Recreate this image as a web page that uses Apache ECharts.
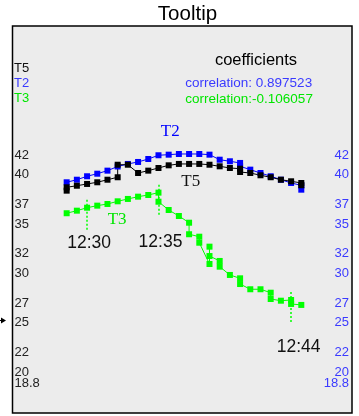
<!DOCTYPE html>
<html><head><meta charset="utf-8">
<script src="https://cdn.jsdelivr.net/npm/echarts@6/dist/echarts.min.js"></script>
<style>html,body{margin:0;padding:0;background:#fff}#c{width:359px;height:416px}</style>
</head><body><div id="c"></div>
<script>
// ---- data (one entry per sample step; a sub-array = several readings at the same step) ----
const seriesNames = ['T5', 'T2', 'T3'];
const t5 = [[38.39,38.73],38.89,39.07,39.24,39.50,[39.75,41.02],41.02,40.18,40.42,40.69,40.96,41.10,41.10,41.10,41.02,40.86,40.69,[40.62,40.28],40.18,39.95,39.75,39.50,39.34,[39.17,38.94]];
const t2 = [39.24,39.50,39.85,40.11,40.42,40.84,41.10,41.30,41.60,41.98,42.04,42.11,42.11,42.11,42.04,41.53,41.37,[41.20,40.86],40.52,40.18,39.85,39.50,39.17,[38.93,38.49]];
const t3 = [36.10,36.36,36.66,36.87,37.04,37.31,37.55,37.78,37.95,[38.19,37.27],36.43,35.82,[35.14,33.97],[33.72,33.11],[30.95,32.71,31.76],[31.26,30.68],29.84,[29.50,28.92],28.39,28.39,[28.04,27.40],27.23,[27.30,26.90],26.80];
const yTickLabels = [20, 22, 25, 27, 30, 32, 35, 37, 40, 42];
const yMinLabel = [18.8];
const timeMarkIndex = [2, 9, 22];
const timeMarkText = ['12:30', '12:35', '12:44'];
const titleText = 'Tooltip';
const coefficientsTitle = 'coefficients';
const correlationValues = ['0.897523', '-0.106057'];

// ---- helpers ----
function toPairs(arr) {
  const out = [];
  arr.forEach((v, i) => (Array.isArray(v) ? v : [v]).forEach(y => out.push([i, y])));
  return out;
}
function firstAt(arr, i) { const v = arr[i]; return Array.isArray(v) ? v[0] : v; }

const BLUE = '#0000ff', GREEN = '#00ff00', BLACK = '#000000';
const BLUE_TXT = '#3a3aff', GREEN_TXT = '#00e600';
const SANS = '"Liberation Sans", Arial, sans-serif';
const SERIF = '"Liberation Serif", "Times New Roman", serif';

const chart = echarts.init(document.getElementById('c'), null, {renderer: 'canvas'});

function yAxisCfg(pos, color, margin, values) {
  return {
    type: 'value', position: pos, min: 15.84, max: 55.09,
    axisLine: {show: false}, axisTick: {show: false}, splitLine: {show: false},
    axisLabel: {
      inside: true, customValues: values, color: color, fontSize: 13,
      fontFamily: SANS, margin: margin, formatter: v => String(v),
      showMinLabel: true, showMaxLabel: true
    }
  };
}

function lineSeries(name, arr, color, extra) {
  return Object.assign({
    name: name, type: 'line', data: toPairs(arr), yAxisIndex: 0,
    symbol: 'rect', symbolSize: 6, showSymbol: true,
    lineStyle: {color: color, width: 1}, itemStyle: {color: color},
    animation: false, silent: true
  }, extra || {});
}

const option = {
  animation: false,
  backgroundColor: '#ffffff',
  grid: {left: 12.5, right: 7, top: 26, bottom: 3, show: true,
         backgroundColor: '#ececec', borderColor: '#000', borderWidth: 1.5},
  xAxis: {type: 'value', min: -5.31, max: 27.97, show: false},
  yAxis: [
    yAxisCfg('left', '#222', 2, yTickLabels),
    yAxisCfg('right', BLUE_TXT, 3, yTickLabels),
    yAxisCfg('left', '#222', 2, yMinLabel),
    yAxisCfg('right', BLUE_TXT, 3, yMinLabel)
  ],
  series: [
    lineSeries('T3', t3, GREEN, {
      markLine: {
        silent: true, symbol: 'none', animation: false,
        label: {show: false},
        lineStyle: {color: GREEN, type: [2, 2], width: 1.5},
        data: timeMarkIndex.map(k => [
          {coord: [k, firstAt(t3, k) + 0.8]},
          {coord: [k, firstAt(t3, k) - 2.3]}
        ])
      }
    }),
    lineSeries('T2', t2, BLUE),
    lineSeries('T5', t5, BLACK)
  ]
};
chart.setOption(option);

// ---- annotations placed relative to data points ----
const timeLabelOffsets = [[2, 35], [2, 50], [7.5, 47]];
const graphics = [];
timeMarkIndex.forEach((k, j) => {
  const p = chart.convertToPixel({seriesIndex: 0}, [k, firstAt(t3, k)]);
  graphics.push({type: 'text', x: p[0] + timeLabelOffsets[j][0], y: p[1] + timeLabelOffsets[j][1],
    style: {text: timeMarkText[j], fill: '#111', font: '17.5px ' + SANS, textAlign: 'center', textVerticalAlign: 'middle'}});
});
// series name tags near their lines
const nameTags = [
  {name: 'T2', arr: t2, idx: 10, si: 1, off: [1.6, -23], color: BLUE},
  {name: 'T5', arr: t5, idx: 12, si: 2, off: [1.7, 17.7], color: '#111'},
  {name: 'T3', arr: t3, idx: 5, si: 0, off: [-0.6, 18.7], color: GREEN_TXT}
];
nameTags.forEach(t => {
  const p = chart.convertToPixel({seriesIndex: t.si}, [t.idx, firstAt(t.arr, t.idx)]);
  graphics.push({type: 'text', x: p[0] + t.off[0], y: p[1] + t.off[1],
    style: {text: t.name, fill: t.color, font: '17px ' + SERIF, textAlign: 'center', textVerticalAlign: 'middle'}});
});
// title
graphics.push({type: 'text', x: 187.5, y: 14, style: {text: titleText, fill: '#000', font: '20.5px ' + SANS, textAlign: 'center', textVerticalAlign: 'middle'}});
// left legend list
const legendColors = ['#111', BLUE_TXT, GREEN_TXT];
seriesNames.forEach((n, i) => {
  graphics.push({type: 'text', x: 14, y: 68.3 + i * 15.3, style: {text: n, fill: legendColors[i], font: '13px ' + SANS, textAlign: 'left', textVerticalAlign: 'middle'}});
});
// coefficients box
graphics.push({type: 'text', x: 256, y: 60, style: {text: coefficientsTitle, fill: '#000', font: '16.5px ' + SANS, textAlign: 'center', textVerticalAlign: 'middle'}});
const corrColors = [BLUE_TXT, GREEN_TXT];
correlationValues.forEach((v, i) => {
  const s = 'correlation:' + (v.charAt(0) === '-' ? '' : ' ') + v;
  graphics.push({type: 'text', x: 185.3, y: 83.3 + i * 15.7, style: {text: s, fill: corrColors[i], font: '13.5px ' + SANS, textAlign: 'left', textVerticalAlign: 'middle'}});
});
// small pointer at the left edge
graphics.push({type: 'polygon', shape: {points: [[1, 317.5], [6, 320.5], [1, 323.5]]}, style: {fill: '#000'}});
graphics.push({type: 'line', shape: {x1: 0, y1: 320.5, x2: 2, y2: 320.5}, style: {stroke: '#000', lineWidth: 1}});

chart.setOption({graphic: graphics.map(g => Object.assign({silent: true}, g))});
</script>
</body></html>
